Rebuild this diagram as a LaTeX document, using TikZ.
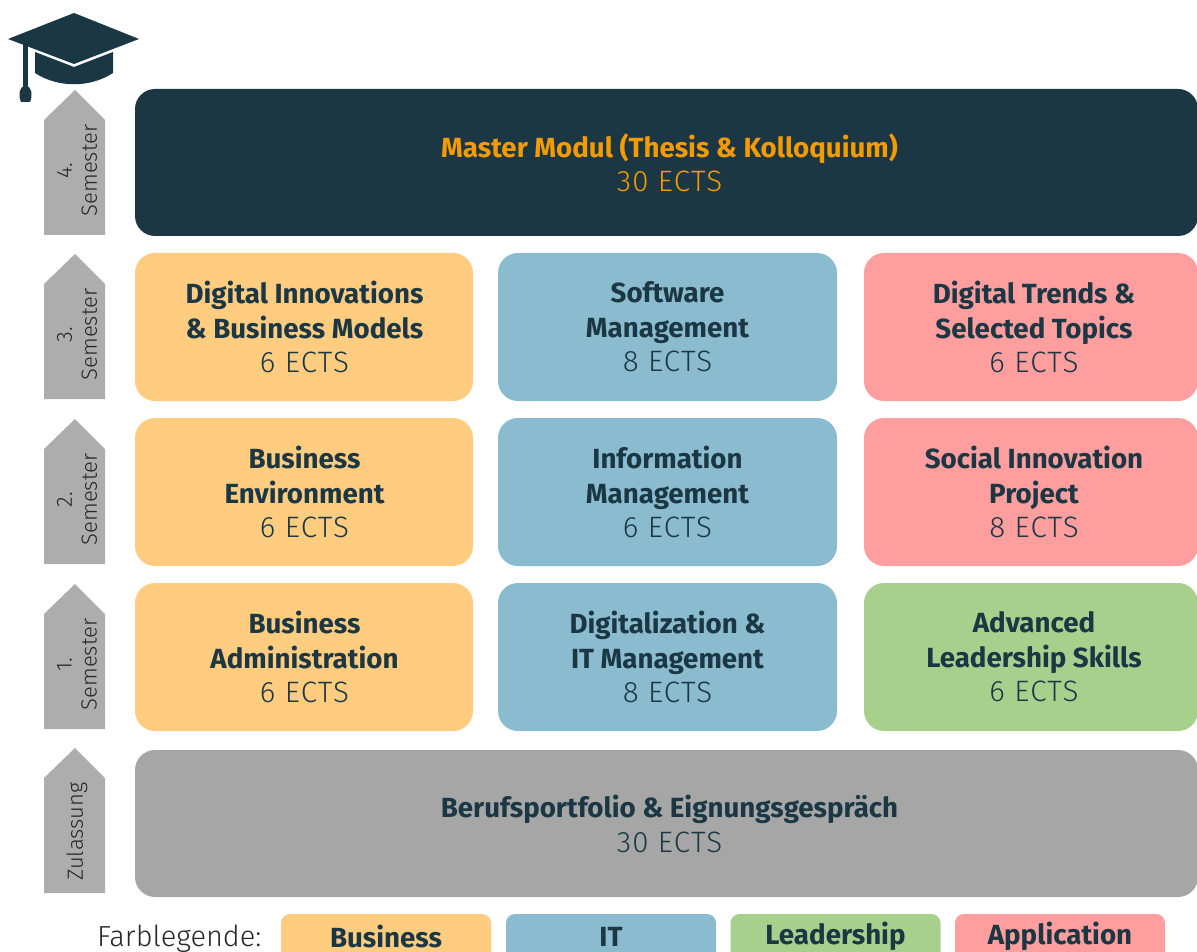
\documentclass[tikz,border=0pt]{standalone}
\usepackage{fontspec}
\setmainfont{Fira Sans}
\newfontfamily\lightfont{Fira Sans Light}
\newfontfamily\ectsfont[LetterSpace=4]{Fira Sans Light}
\usepackage{tikz}

\definecolor{navy}{HTML}{1A3743}
\definecolor{mastertext}{HTML}{F59A00}
\definecolor{business}{HTML}{FFCC80}
\definecolor{itblue}{HTML}{8ABBCF}
\definecolor{leadership}{HTML}{A8D08D}
\definecolor{application}{HTML}{FF9E9E}
\definecolor{portfolio}{HTML}{A6A6A6}
\definecolor{semgray}{HTML}{ADADAD}

\newcommand{\titlesize}{\fontsize{27.7}{34.5}\selectfont\bfseries}
\newcommand{\ectssize}{\mdseries\ectsfont\fontsize{29.5}{34.5}\selectfont}

\tikzset{
	modulebox/.style={rounded corners=20pt, inner sep=0pt},
	moduletext/.style={align=center, inner sep=0pt, text=navy, font=\titlesize},
	legendbox/.style={rounded corners=9pt, inner sep=0pt},
	semlabel/.style={rotate=90, align=center, text=black!85, font=\lightfont\fontsize{22}{25}\selectfont},
}

\begin{document}
\begin{tikzpicture}[x=1pt, y=-1pt]
		\useasboundingbox (0,0) rectangle (1197,952);
		\clip (0,0) rectangle (1197,952);
		%cap
		\fill[navy] (8,39) -- (74,13) -- (139,39) -- (74,64) -- cycle;
		\fill[navy] (35,52) -- (74,67) -- (113,52) -- (113,73) .. controls (90,88) and (58,88) .. (35,73) -- cycle;
		\fill[navy] (23,44) rectangle (27.5,88);
		\fill[navy] (25.5,85) .. controls (19,87) and (18,95) .. (21,102) -- (30,102) .. controls (33,95) and (32,87) .. (25.5,85) -- cycle;
		%semester arrows
		\foreach \name/\ytop/\ytext in {
			four/90/{4.\\Semester},
			three/254/{3.\\Semester},
			two/419/{2.\\Semester},
			one/584/{1.\\Semester},
			adm/748/{Zulassung}
		}{
			\fill[semgray] (44,\ytop+30) -- (75,\ytop) -- (105,\ytop+30) -- (105,\ytop+145) -- (44,\ytop+145) -- cycle;
			\node[semlabel] (sem\name) at (77,\ytop+80.5) {\ytext};
		}
		%wide boxes
		\node[modulebox, fill=navy, minimum width=1063pt, minimum height=147pt] (master) at (666.5,162.5) {};
		\node[moduletext, text=mastertext] (master text) at (669.5,163)
		{Master Modul (Thesis \& Kolloquium)\\{\ectssize 30 ECTS}};
		\node[modulebox, fill=portfolio, minimum width=1063pt, minimum height=147pt] (portfolio) at (666.5,823.5) {};
		\node[moduletext] (portfolio text) at (669.5,824)
		{Berufsportfolio \& Eignungsgespräch\\{\ectssize 30 ECTS}};
		%modules
		\foreach \name/\xmid/\wid/\xtext/\ymid/\col/\title/\ects in {
			dim/304/338/304.5/327/business/{Digital Innovations\\\& Business Models}/6,
			sm/667.5/339/667.5/327/itblue/{Software\\Management}/8,
			dt/1031/334/1034/327/application/{Digital Trends \&\\Selected Topics}/6,
			be/304/338/304.5/492/business/{Business\\Environment}/6,
			im/667.5/339/667.5/492/itblue/{Information\\Management}/6,
			si/1031/334/1034/492/application/{Social Innovation\\Project}/8,
			ba/304/338/304.5/657/business/{Business\\Administration}/6,
			dit/667.5/339/667.5/657/itblue/{Digitalization \&\\IT Management}/8,
			al/1031/334/1034/657/leadership/{Advanced\\Leadership Skills}/6%
		}{
			\node[modulebox, fill=\col, minimum width=\wid pt, minimum height=148pt] (\name) at (\xmid,\ymid) {};
			\node[moduletext] (\name text) at (\xtext,\ymid) {\title\\{\ectssize \ects{} ECTS}};
		}
		%legend
		\node[anchor=east, font=\lightfont\fontsize{29}{30}\selectfont, text=black!85] (legendtitle) at (265,939) {Farblegende:};
		\foreach \name/\xmid/\col/\ltext in {
			lbus/386/business/Business,
			lit/611/itblue/IT,
			llead/835.5/leadership/Leadership,
			lapp/1060/application/Application%
		}{
			\node[legendbox, fill=\col, minimum width=210pt, minimum height=50pt] (\name) at (\xmid,939) {};
			\node[text=navy, font=\titlesize] (\name text) at (\xmid,936.5) {\ltext};
		}
\end{tikzpicture}
\end{document}
